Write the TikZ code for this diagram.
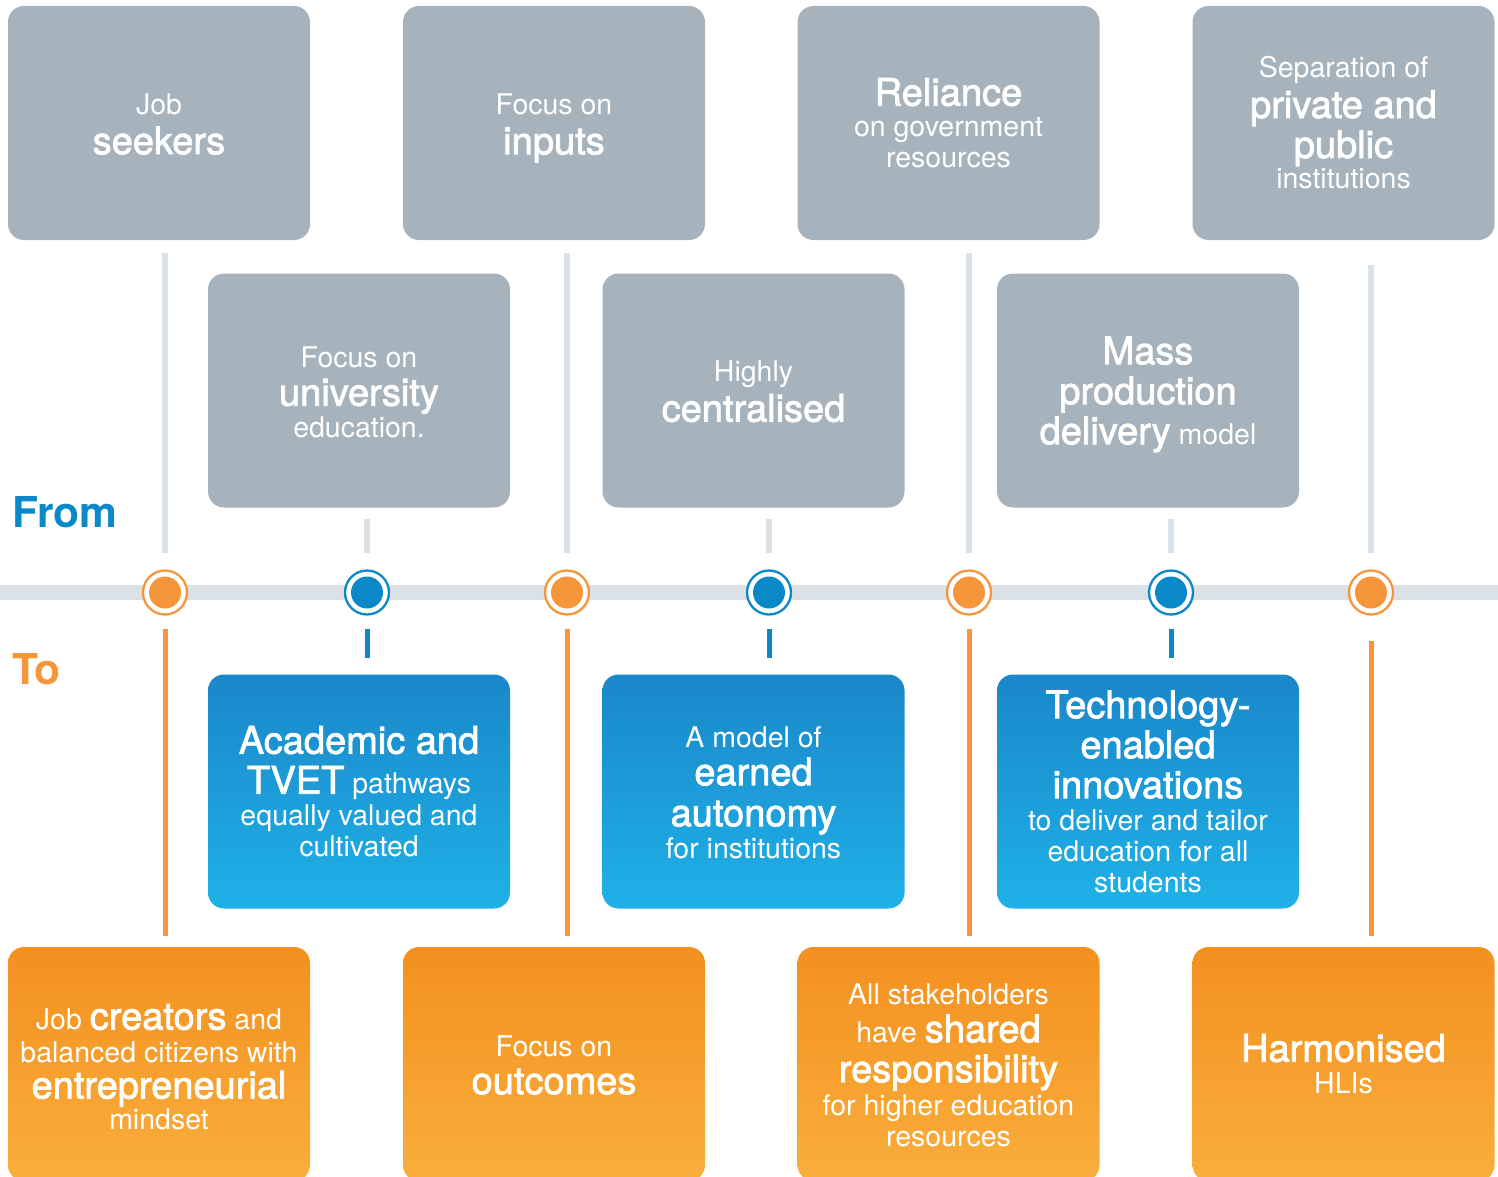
\documentclass[tikz,border=0pt]{standalone}
\usepackage{fontspec}
\setmainfont{TeX Gyre Heros}
\newfontfamily\medfont[FakeBold=2]{TeX Gyre Heros}
\definecolor{boxgrey}{HTML}{A7B3BC}
\definecolor{railgrey}{HTML}{DAE1E7}
\definecolor{tlblue}{HTML}{0A88C8}
\definecolor{tlorange}{HTML}{F7953B}
\definecolor{bluetop}{HTML}{1A87C9}
\definecolor{bluebot}{HTML}{1FB1E7}
\definecolor{orangetop}{HTML}{F39020}
\definecolor{orangebot}{HTML}{F9AE3C}
\newcommand\bg[1]{{\medfont\fontsize{38}{40}\selectfont #1}}
\newcommand\cardfont{\fontsize{28.5}{31}\selectfont\lineskiplimit -100pt\relax}
\tikzset{
  card/.style={rectangle, rounded corners=16pt, minimum width=302pt, minimum height=234pt,
    inner sep=0pt},
  fromcard/.style={card, fill=boxgrey},
  bluecard/.style={card, top color=bluetop, bottom color=bluebot},
  orangecard/.style={card, top color=orangetop, bottom color=orangebot},
  cardtext/.style={inner sep=0pt, align=center, text=white, font=\cardfont},
  odot/.style={circle, minimum size=44pt, inner sep=0pt, draw=tlorange, line width=2.3pt, fill=white,
    path picture={\fill[tlorange] (path picture bounding box.center) circle (16pt);}},
  bdot/.style={circle, minimum size=44pt, inner sep=0pt, draw=tlblue, line width=2.3pt, fill=white,
    path picture={\fill[tlblue] (path picture bounding box.center) circle (16pt);}},
  upline/.style={draw=railgrey, line width=6pt},
  olink/.style={draw=tlorange, line width=5pt},
  blink/.style={draw=tlblue, line width=5pt},
}
\begin{document}
\begin{tikzpicture}[x=1pt,y=-1pt]
\useasboundingbox (0,0) rectangle (1498,1177);
% rail
\coordinate (railL) at (0,592.5);
\coordinate (railR) at (1498,592.5);
\draw[railgrey, line width=15pt] (railL) -- (railR);

% labels
\node[anchor=base west, inner sep=0pt, text=tlblue, font=\fontsize{42.5}{44}\selectfont\bfseries] (from) at (12,527) {From};
\node[anchor=base west, inner sep=0pt, text=tlorange, font=\fontsize{42.5}{44}\selectfont\bfseries] (to) at (12,684) {To};

% top row (from)
\node[fromcard] (f1) at (159,123) {};
\node[fromcard] (f2) at (554,123) {};
\node[fromcard] (f3) at (948.5,123) {};
\node[fromcard] (f4) at (1343.5,123) {};
\node[cardtext] (f1t) at ([yshift=-1pt]f1.center) {Job\\[9pt]\bg{seekers}};
\node[cardtext] (f2t) at ([yshift=-5pt]f2.center) {Focus on\\[9pt]\bg{inputs}};
\node[cardtext] (f3t) at (f3.center) {\bg{Reliance}\\[0pt]on government\\resources};
\node[cardtext] (f4t) at (f4.center) {Separation of\\[9pt]\bg{private and}\\[9pt]\bg{public}\\[0pt]institutions};
% middle row (from)
\node[fromcard] (m1) at (359,390.5) {};
\node[fromcard] (m2) at (753.5,390.5) {};
\node[fromcard] (m3) at (1148,390.5) {};
\node[cardtext] (m1t) at ([yshift=-2pt]m1.center) {Focus on\\[7pt]\bg{university}\\[1pt]education.};
\node[cardtext] (m2t) at ([yshift=-1pt]m2.center) {Highly\\[9pt]\bg{centralised}};
\node[cardtext] (m3t) at ([yshift=-4pt]m3.center) {\bg{Mass}\\[9pt]\bg{production}\\[9pt]\bg{delivery} model};

% blue row (to)
\node[bluecard] (b1) at (359,791.5) {};
\node[bluecard] (b2) at (753.5,791.5) {};
\node[bluecard] (b3) at (1148,791.5) {};
\node[cardtext] (b1t) at (b1.center) {\bg{Academic and}\\[9pt]\bg{TVET} pathways\\[1pt]equally valued and\\cultivated};
\node[cardtext] (b2t) at ([yshift=-1pt]b2.center) {A model of\\[7pt]\bg{earned}\\[10pt]\bg{autonomy}\\[1pt]for institutions};
\node[cardtext] (b3t) at (b3.center) {\bg{Technology-}\\[9pt]\bg{enabled}\\[9pt]\bg{innovations}\\[1pt]to deliver and tailor\\education for all\\students};

% orange row (to)
\node[orangecard] (o1) at (159,1064) {};
\node[orangecard] (o2) at (554,1064) {};
\node[orangecard] (o3) at (948.5,1064) {};
\node[orangecard] (o4) at (1343.5,1064) {};
\node[cardtext] (o1t) at ([yshift=-3pt]o1.center) {Job \bg{creators} and\\[2pt]balanced citizens with\\[5pt]\bg{entrepreneurial}\\[0pt]mindset};
\node[cardtext] (o2t) at ([yshift=-1pt]o2.center) {Focus on\\[7pt]\bg{outcomes}};
\node[cardtext] (o3t) at ([yshift=-1pt]o3.center) {All stakeholders\\[7pt]have \bg{shared}\\[9pt]\bg{responsibility}\\[2pt]for higher education\\resources};
\node[cardtext] (o4t) at (o4.center) {\bg{Harmonised}\\[1pt]HLIs};

% timeline dots
\node[odot] (c1) at (165,592.5) {};
\node[bdot] (c2) at (367,592.5) {};
\node[odot] (c3) at (567,592.5) {};
\node[bdot] (c4) at (769,592.5) {};
\node[odot] (c5) at (969,592.5) {};
\node[bdot] (c6) at (1171,592.5) {};
\node[odot] (c7) at (1371,592.5) {};

% grey links above
\draw[upline, shorten <=13pt, shorten >=16pt] (f1.south -| c1) -- (c1.north);
\draw[upline, shorten <=13pt, shorten >=16pt] (f2.south -| c3) -- (c3.north);
\draw[upline, shorten <=13pt, shorten >=16pt] (f3.south -| c5) -- (c5.north);
\draw[upline, shorten <=25pt, shorten >=16pt] (f4.south -| c7) -- (c7.north);
\draw[upline, shorten <=11pt, shorten >=16pt] (m1.south -| c2) -- (c2.north);
\draw[upline, shorten <=11pt, shorten >=16pt] (m2.south -| c4) -- (c4.north);
\draw[upline, shorten <=11pt, shorten >=16pt] (m3.south -| c6) -- (c6.north);

% links below
\draw[olink, shorten <=13pt, shorten >=11pt] (c1.south) -- (o1.north -| c1);
\draw[olink, shorten <=13pt, shorten >=11pt] (c3.south) -- (o2.north -| c3);
\draw[olink, shorten <=13pt, shorten >=11pt] (c5.south) -- (o3.north -| c5);
\draw[olink, shorten <=25pt, shorten >=11pt] (c7.south) -- (o4.north -| c7);
\draw[blink, shorten <=13pt, shorten >=16pt] (c2.south) -- (b1.north -| c2);
\draw[blink, shorten <=13pt, shorten >=16pt] (c4.south) -- (b2.north -| c4);
\draw[blink, shorten <=13pt, shorten >=16pt] (c6.south) -- (b3.north -| c6);
\end{tikzpicture}
\end{document}
